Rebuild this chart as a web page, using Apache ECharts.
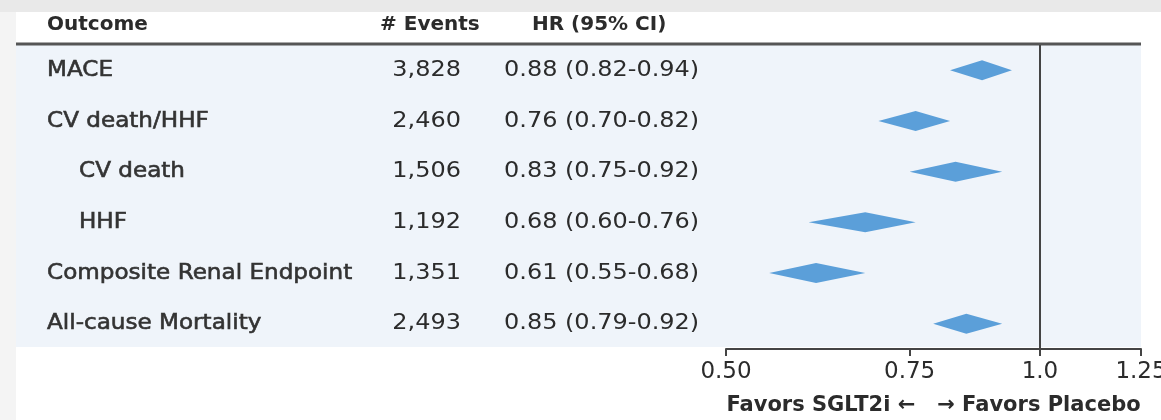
<!DOCTYPE html>
<html>
<head>
<meta charset="utf-8">
<script src="https://cdn.jsdelivr.net/npm/echarts@6.0.0/dist/echarts.min.js"></script>
<style>
  html, body { margin: 0; padding: 0; background: #f4f4f4; }
  #main { width: 1161px; height: 420px; }
</style>
</head>
<body>
<div id="main"></div>
<script>
// rows of the forest plot
const outcomes = ['MACE', 'CV death/HHF', 'CV death', 'HHF', 'Composite Renal Endpoint', 'All-cause Mortality'];
const indented = [0, 0, 1, 1, 0, 0];
const events = ['3,828', '2,460', '1,506', '1,192', '1,351', '2,493'];
const hr = [0.88, 0.76, 0.83, 0.68, 0.61, 0.85];
const ciLow = [0.82, 0.70, 0.75, 0.60, 0.55, 0.79];
const ciHigh = [0.94, 0.82, 0.92, 0.76, 0.68, 0.92];

const tickValues = [0.5, 0.75, 1, 1.25];
const tickLabels = ['0.50', '0.75', '1.0', '1.25'];

const FONT = '"DejaVu Sans", sans-serif';
const TXT = '#2b2b2b';
// the table text in the original runs a bit wide
const SX_LABEL = 1.05;
const SX_NUM = 1.09;

const hrText = hr.map((v, i) => v.toFixed(2) + ' (' + ciLow[i].toFixed(2) + '-' + ciHigh[i].toFixed(2) + ')');

const chart = echarts.init(document.getElementById('main'));

const headerText = (x, text) => ({
  type: 'text', x: x, y: 25,
  style: { text: text, font: 'bold 20px ' + FONT, fill: TXT, verticalAlign: 'middle' }
});

const option = {
  animation: false,
  backgroundColor: '#f4f4f4',
  textStyle: { fontFamily: FONT },
  graphic: [
    { type: 'rect', z: -10, shape: { x: 0, y: 0, width: 1161, height: 12 }, style: { fill: '#e9e9e9' } },
    { type: 'rect', z: -10, shape: { x: 16, y: 12, width: 1145, height: 408 }, style: { fill: '#ffffff' } },
    { type: 'rect', z: -9, shape: { x: 16, y: 45, width: 1125, height: 302 }, style: { fill: '#eff4fa' } },
    { type: 'line', z: -8, shape: { x1: 16, y1: 44, x2: 1141, y2: 44 }, style: { stroke: '#555', lineWidth: 3 } },
    headerText(47, 'Outcome'),
    headerText(380, '# Events'),
    headerText(532, 'HR (95% CI)')
  ],
  grid: { left: 726, right: 20, top: 45, bottom: 71, outerBoundsMode: 'none', containLabel: false },
  xAxis: {
    type: 'log',
    min: 0.5,
    max: 1.25,
    splitLine: { show: false },
    axisLine: { show: true, lineStyle: { color: '#444', width: 2 } },
    axisTick: { show: true, customValues: tickValues, length: 7, lineStyle: { color: '#444', width: 2 } },
    axisLabel: {
      customValues: tickValues,
      margin: 12,
      fontSize: 23,
      color: TXT,
      fontFamily: FONT,
      formatter: v => {
        const k = tickValues.findIndex(t => Math.abs(t - v) < 1e-6);
        return k >= 0 ? tickLabels[k] : '';
      }
    },
    name: 'Favors SGLT2i \u2190   \u2192 Favors Placebo',
    nameLocation: 'middle',
    nameGap: 46,
    nameTextStyle: { fontSize: 21, fontWeight: 'bold', color: TXT, fontFamily: FONT }
  },
  yAxis: {
    type: 'category',
    data: outcomes,
    inverse: true,
    show: false
  },
  series: [
    {
      name: 'table',
      type: 'custom',
      silent: true,
      data: outcomes.map((o, i) => [1, i]),
      renderItem: (params, api) => {
        const i = params.dataIndex;
        const y = api.coord([1, i])[1];
        return {
          type: 'group',
          children: [
            {
              type: 'text', x: indented[i] ? 79 : 47, y: y, scaleX: SX_LABEL,
              style: { text: outcomes[i], font: '22px ' + FONT, fill: '#333', stroke: '#333', lineWidth: 0.6, verticalAlign: 'middle' }
            },
            {
              type: 'text', x: 461, y: y, scaleX: SX_NUM,
              style: { text: events[i], font: '22px ' + FONT, fill: TXT, align: 'right', verticalAlign: 'middle' }
            },
            {
              type: 'text', x: 504, y: y, scaleX: SX_NUM,
              style: { text: hrText[i], font: '22px ' + FONT, fill: TXT, verticalAlign: 'middle' }
            }
          ]
        };
      }
    },
    {
      name: 'HR',
      type: 'custom',
      data: hr.map((v, i) => [ciLow[i], v, ciHigh[i], i]),
      renderItem: (params, api) => {
        const lo = api.coord([api.value(0), api.value(3)]);
        const mid = api.coord([api.value(1), api.value(3)]);
        const hi = api.coord([api.value(2), api.value(3)]);
        const h = 10;
        return {
          type: 'polygon',
          shape: { points: [[lo[0], lo[1]], [mid[0], mid[1] - h], [hi[0], hi[1]], [mid[0], mid[1] + h]] },
          style: { fill: '#5b9fd9' }
        };
      },
      markLine: {
        silent: true,
        symbol: 'none',
        label: { show: false },
        lineStyle: { color: '#444', width: 2, type: 'solid' },
        data: [{ xAxis: 1 }]
      }
    }
  ]
};

chart.setOption(option);
</script>
</body>
</html>
